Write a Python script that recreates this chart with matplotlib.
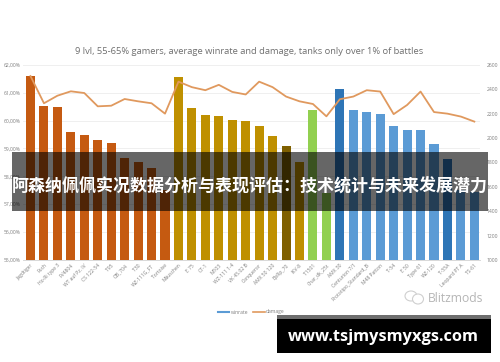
#!/usr/bin/python
import matplotlib
matplotlib.use("Agg")
import matplotlib.pyplot as plt
from matplotlib.patches import Ellipse, Rectangle

FIG_OUTPUT = "out.png"

TANKS = ["Jagdtiger", "Foch", "Ho-Ri type 3", "FV4804", "WT auf Pz. IV", "CS 122-54", "T95",
         "OB_704", "T30", "WZ-111G_FT", "Tortoise",
         "Mäuschen", "E 75", "CT-1", "M103", "WZ-111 1-4", "VK 45.02 B", "Conqueror",
         "AMX 50 120", "BpRp_70", "IKV-8", "T1501", "Char_dk_25t",
         "AMX 30", "Centurion 7/1", "Prototipo_Standard_B", "M48 Patton", "T-54", "E 50",
         "Type 61", "WZ-120", "T-55A", "Leopard PT A", "TS-61"]
WINRATE = [61.60, 60.52, 60.47, 59.58, 59.48, 59.30, 59.20, 58.67, 58.51, 58.29, 57.50,
           61.55, 60.45, 60.19, 60.17, 60.02, 59.98, 59.80, 59.43, 59.08, 58.50,
           60.38, 57.40,
           61.13, 60.39, 60.30, 60.25, 59.82, 59.67, 59.67, 59.14, 58.63, 57.50, 57.45]
DAMAGE = [2507, 2284, 2346, 2382, 2368, 2259, 2264, 2319, 2300, 2284, 2199,
          2461, 2416, 2391, 2435, 2377, 2356, 2461, 2416, 2339, 2300, 2278, 2177,
          2317, 2339, 2391, 2380, 2195, 2270, 2380, 2212, 2199, 2175, 2134]
BAR_COLORS = ["#c55a11"] * 11 + ["#bf9000"] * 8 + ["#7f6000"] + ["#bf9000"] \
    + ["#92d050"] * 2 + ["#2e75b6"] + ["#5b9bd5"] * 7 + ["#2e75b6"] + ["#5b9bd5"] * 2

WIN_TICKS = [55, 56, 57, 58, 59, 60, 61, 62]
DMG_TICKS = [1000, 1200, 1400, 1600, 1800, 2000, 2200, 2400, 2600]

TITLE = "9 lvl, 55-65% gamers, average winrate and damage, tanks only over 1% of battles"
BANNER = "阿森纳佩佩实况数据分析与表现评估：技术统计与未来发展潜力"
SITE = "www.tsjmysmyxgs.com"

W, H = 500, 362
GREY = "#7f7f7f"

plt.rcParams["font.family"] = ["Open Sans", "DejaVu Sans"]

fig = plt.figure(figsize=(W / 100, H / 100), dpi=100)
ax = fig.add_axes([23 / W, 1 - 260 / H, 457 / W, 195.3 / H])
ax2 = ax.twinx()
ax.set_zorder(1)
ax2.set_zorder(2)
ax2.patch.set_visible(False)

x = list(range(len(TANKS)))
ax.bar(x, WINRATE, width=0.67, color=BAR_COLORS, zorder=3)
ax2.plot(x, DAMAGE, color="#e0995e", lw=1.3, solid_joinstyle="round")

ax.set_xlim(-0.558, 33.42)
ax.set_ylim(55, 62)
ax2.set_ylim(1000, 2600)
ax.set_yticks(WIN_TICKS, [f"{v},00%" for v in WIN_TICKS])
ax2.set_yticks(DMG_TICKS)
ax.set_xticks(x)
ax.set_xticklabels(TANKS, rotation=45, ha="right", rotation_mode="anchor")
ax.grid(axis="y", color="#efefef", lw=0.7, zorder=0)
ax.tick_params(length=0, labelsize=3.6, labelcolor=GREY, pad=2)
ax2.tick_params(length=0, labelsize=3.6, labelcolor=GREY, pad=5)
for a in (ax, ax2):
    for name, spine in a.spines.items():
        spine.set_visible(name == "bottom")
        spine.set_color("#d9d9d9")
        spine.set_linewidth(0.6)

fig.text(249.5 / W, 1 - 51 / H, TITLE, color="#6f6f6f", fontsize=6.75, ha="center", va="center")

# legend drawn by hand so it sits at the same spot
fig.add_artist(plt.Line2D([218 / W, 229 / W], [1 - 312 / H] * 2, color="#5b9bd5", lw=1.5))
fig.text(231 / W, 1 - 312 / H, "winrate", color=GREY, fontsize=3.6, va="center")
fig.add_artist(plt.Line2D([253 / W, 265 / W], [1 - 312 / H] * 2, color="#e0995e", lw=1.2))
fig.text(266 / W, 1 - 312 / H, "damage", color=GREY, fontsize=3.6, va="center")

# watermark: two chat bubbles and the name
fig.text(428 / W, 1 - 298 / H, "Blitzmods", color="#b5b5b5", fontsize=8.7, va="center")
for cx, cy, w, h in [(411, 296, 12, 10), (418, 299, 11, 10)]:
    fig.add_artist(Ellipse((cx / W, 1 - cy / H), w / W, h / H, transform=fig.transFigure,
                           facecolor="white", edgecolor="#cfcfcf", lw=0.8))

# banner over the chart
fig.add_artist(Rectangle((12 / W, 1 - 211 / H), 476 / W, 59 / H, transform=fig.transFigure,
                         facecolor="black", alpha=0.6, edgecolor="none", zorder=5))
fig.text(250 / W, 1 - 186 / H, BANNER, color="white", fontsize=12.25, fontweight="bold",
         family=["Noto Sans CJK SC", "DejaVu Sans"], ha="center", va="center", zorder=6)

# site box
fig.add_artist(Rectangle((277 / W, 1 - 353 / H), 214 / W, 38 / H, transform=fig.transFigure,
                         facecolor="black", edgecolor="none", zorder=5))
fig.add_artist(Rectangle((277 / W, 1 - 319 / H), 214 / W, 4 / H, transform=fig.transFigure,
                         facecolor="#6e6e6e", edgecolor="none", zorder=6))
fig.text(383.5 / W, 1 - 337 / H, SITE, color="white", fontsize=11.8, fontweight="bold",
         ha="center", va="center", zorder=6)

fig.savefig(FIG_OUTPUT, dpi=100)
print("Exported " + FIG_OUTPUT)
